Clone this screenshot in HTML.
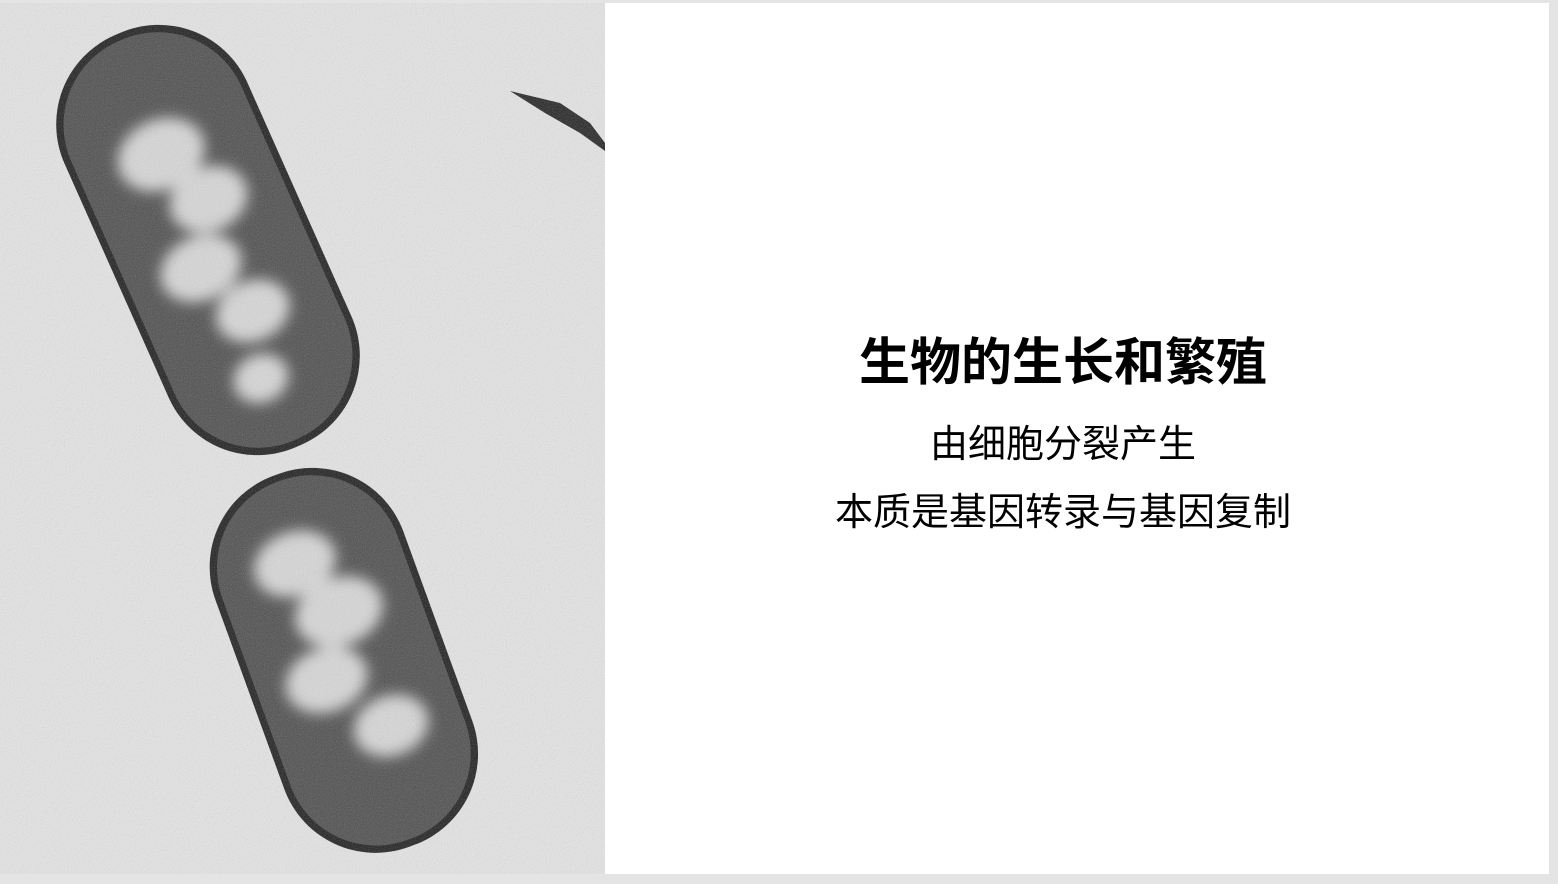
<!DOCTYPE html>
<html><head><meta charset="utf-8"><style>
body{margin:0;width:1558px;height:884px;background:#e4e4e4;overflow:hidden;font-family:"Liberation Sans","Noto Sans CJK SC",sans-serif}
#slide{position:absolute;left:0;top:3px;width:1549px;height:871px;background:#fff}
.t{position:absolute;left:605px;width:916px;text-align:center;color:#000;white-space:nowrap;line-height:1}
</style></head><body>
<div id="slide">
<svg width="605" height="871" style="position:absolute;left:0;top:0">
<defs>
<filter id="n"><feTurbulence type="fractalNoise" baseFrequency="0.9" numOctaves="2" result="t"/><feColorMatrix type="saturate" values="0"/><feComponentTransfer><feFuncA type="table" tableValues="0 0.35"/></feComponentTransfer><feComposite in2="SourceGraphic" operator="in"/></filter>
<filter id="b"><feGaussianBlur stdDeviation="7"/></filter>
</defs>
<rect width="605" height="871" fill="#e6e6e6"/>
<path d="M510 88 L560 100 L590 120 L605 140 L605 148 L580 130 L545 110 Z" fill="#222"/>
<g transform="rotate(-24 208 237)">
<rect x="108" y="12" width="200" height="450" rx="97" fill="#1c1c1c"/>
<rect x="115" y="19" width="186" height="436" rx="91" fill="#4c4c4c"/>
<g filter="url(#b)" fill="#d8d8d8"><ellipse cx="200" cy="140" rx="45" ry="35"/><ellipse cx="225" cy="200" rx="40" ry="32"/><ellipse cx="190" cy="260" rx="42" ry="32"/><ellipse cx="220" cy="320" rx="38" ry="30"/><ellipse cx="200" cy="385" rx="28" ry="24"/></g>
</g>
<g transform="rotate(-20 343 655)">
<rect x="243" y="460" width="200" height="395" rx="97" fill="#1c1c1c"/>
<rect x="250" y="467" width="186" height="381" rx="91" fill="#4c4c4c"/>
<g filter="url(#b)" fill="#d8d8d8"><ellipse cx="330" cy="550" rx="42" ry="32"/><ellipse cx="355" cy="610" rx="45" ry="34"/><ellipse cx="320" cy="670" rx="42" ry="32"/><ellipse cx="365" cy="735" rx="38" ry="30"/></g>
</g>
<rect width="605" height="871" fill="#888" filter="url(#n)"/>
</svg>
<div class="t" style="top:334px;font-size:51px;font-weight:bold">生物的生长和繁殖</div>
<div class="t" style="top:423px;font-size:38px">由细胞分裂产生</div>
<div class="t" style="top:491px;font-size:38px">本质是基因转录与基因复制</div>
</div>
</body></html>
